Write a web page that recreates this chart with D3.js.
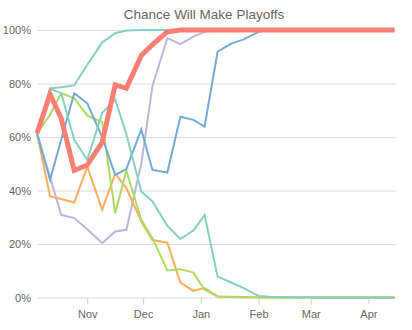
<!DOCTYPE html>
<html>
<head>
<meta charset="utf-8">
<script src="https://cdn.jsdelivr.net/npm/d3@7"></script>
<style>
  html, body { margin: 0; padding: 0; background: #fff; }
  svg { display: block; font-family: "Liberation Sans", Arial, sans-serif; }
</style>
</head>
<body>
<svg id="chart" width="412" height="330"></svg>
<script>
// Weekly snapshot dates (2016-17 season)
const dates = [
  "2016-10-05", "2016-10-12", "2016-10-18", "2016-10-25", "2016-11-01",
  "2016-11-09", "2016-11-16", "2016-11-22", "2016-11-30", "2016-12-06",
  "2016-12-14", "2016-12-21", "2016-12-28", "2017-01-03", "2017-01-10",
  "2017-01-17", "2017-01-24", "2017-02-01", "2017-02-07", "2017-02-14",
  "2017-02-21", "2017-02-28", "2017-03-07", "2017-03-14", "2017-03-21",
  "2017-03-28", "2017-04-04", "2017-04-11", "2017-04-15"
];

// Playoff chance (%) per team at each date
const tealUp = [61.4, 78.2, 78.6, 79.3, 87.0, 95.3, 98.8, 99.8, 100, 100, 100, 100, 100, 100, 100, 100, 100, 100, 100, 100, 100, 100, 100, 100, 100, 100, 100, 100, 100];
const tealDown = [61.4, 78.0, 76.4, 58.9, 51.4, 69.0, 74.0, 61.0, 39.6, 35.9, 26.8, 21.9, 25.0, 30.9, 7.8, 5.7, 3.5, 0.6, 0.3, 0.2, 0.1, 0.1, 0, 0, 0, 0, 0, 0, 0];
const blue = [61.4, 44.0, 59.0, 76.4, 72.6, 60.0, 45.8, 48.0, 62.8, 47.7, 46.7, 67.6, 66.4, 63.9, 91.9, 94.8, 96.5, 99.3, 100, 100, 100, 100, 100, 100, 100, 100, 100, 100, 100];
const purple = [61.4, 45.0, 30.9, 29.7, 25.5, 20.3, 24.7, 25.3, 50.0, 79.0, 97.0, 94.7, 97.5, 99.3, 100, 100, 100, 100, 100, 100, 100, 100, 100, 100, 100, 100, 100, 100, 100];
const green = [61.4, 68.3, 76.4, 74.5, 68.0, 65.6, 31.5, 47.5, 29.0, 22.2, 10.1, 10.6, 9.3, 2.9, 0.4, 0.2, 0.1, 0, 0, 0, 0, 0, 0, 0, 0, 0, 0, 0, 0];
const orange = [61.4, 37.8, 36.8, 35.5, 48.9, 32.8, 46.3, 40.9, 28.4, 21.5, 20.5, 5.6, 2.5, 3.5, 0.4, 0.3, 0.2, 0.1, 0, 0, 0, 0, 0, 0, 0, 0, 0, 0, 0];
const red = [61.4, 76.0, 67.0, 47.5, 49.5, 58.0, 79.5, 78.2, 90.5, 94.5, 99.3, 100, 100, 100, 100, 100, 100, 100, 100, 100, 100, 100, 100, 100, 100, 100, 100, 100, 100];

const yTicks = [0, 20, 40, 60, 80, 100];

// Draw order and styling per line; the highlighted team goes last, thicker
const series = [
  { values: purple, color: "#bdb6da", width: 2 },
  { values: orange, color: "#fdad5c", width: 2 },
  { values: green, color: "#addb63", width: 2 },
  { values: blue, color: "#75aad3", width: 2 },
  { values: tealUp, color: "#86d0c0", width: 2 },
  { values: tealDown, color: "#86d0c0", width: 2 },
  { values: red, color: "#fa7f72", width: 5 }
];

const parse = d3.timeParse("%Y-%m-%d");
const when = dates.map(parse);

const svg = d3.select("#chart");
const plotLeft = 37, plotRight = 394.5, plotTop = 30, plotBottom = 297.5;

const x = d3.scaleTime().domain(d3.extent(when)).range([plotLeft, plotRight]);
const y = d3.scaleLinear().domain([0, 100]).range([plotBottom, plotTop]);

// Title
svg.append("text")
  .attr("x", 204)
  .attr("y", 19)
  .attr("text-anchor", "middle")
  .attr("fill", "#666")
  .style("font-size", "13.5px")
  .text("Chance Will Make Playoffs");

// Horizontal gridlines with percent labels
const yAxis = svg.append("g")
  .attr("transform", `translate(${plotLeft + 1},0)`)
  .call(d3.axisLeft(y)
    .tickValues(yTicks)
    .tickFormat(d => d + "%")
    .tickSize(-(plotRight - plotLeft))
    .tickPadding(7));
yAxis.select(".domain").remove();
yAxis.selectAll(".tick line").attr("stroke", "#dcdcdc");
yAxis.selectAll(".tick text")
  .attr("fill", "#666")
  .style("font-size", "11px")
  .style("font-family", "'Liberation Sans', Arial, sans-serif");

// Month axis
const xAxis = svg.append("g")
  .attr("transform", `translate(0,${plotBottom})`)
  .call(d3.axisBottom(x)
    .ticks(d3.timeMonth.every(1))
    .tickFormat(d3.timeFormat("%b"))
    .tickSize(7)
    .tickPadding(6));
xAxis.select(".domain").remove();
xAxis.selectAll(".tick line").attr("stroke", "#d0d0d0");
xAxis.selectAll(".tick text")
  .attr("fill", "#666")
  .style("font-size", "11px")
  .style("font-family", "'Liberation Sans', Arial, sans-serif");

// Team lines
const line = d3.line()
  .x((d, i) => x(when[i]))
  .y(d => y(d));

svg.append("g")
  .selectAll("path")
  .data(series)
  .join("path")
  .attr("fill", "none")
  .attr("stroke", d => d.color)
  .attr("stroke-width", d => d.width)
  .attr("stroke-linejoin", "miter")
  .attr("d", d => line(d.values));
</script>
</body>
</html>
